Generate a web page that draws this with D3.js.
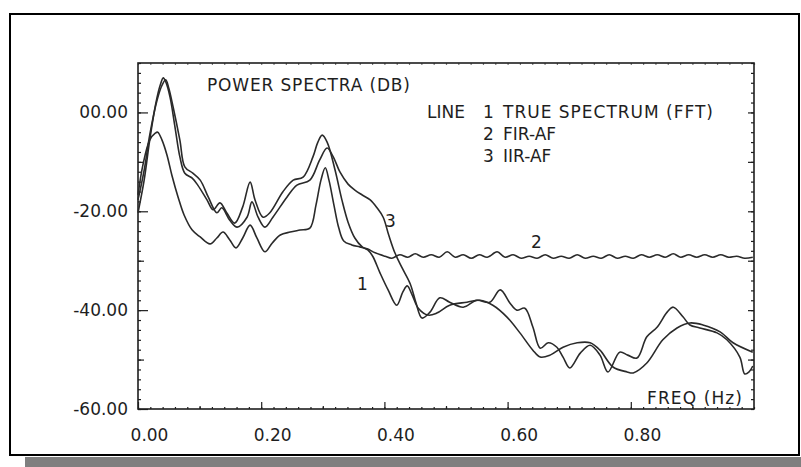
<!DOCTYPE html>
<html>
<head>
<meta charset="utf-8">
<script src="https://cdn.jsdelivr.net/npm/d3@7"></script>
<style>
  body { margin: 0; background: #fff; }
  svg text { font-family: "DejaVu Sans", Verdana, sans-serif; fill: #1e1e1e; }
</style>
</head>
<body>
<svg id="chart" width="801" height="467"></svg>
<script>
// Line 1: true spectrum (FFT)
const fftFreq = [0, .010, .019, .029, .036, .041, .045, .052, .060, .068, .076, .088, .097, .112, .122, .133, .144, .157, .170, .182,
  .190, .203, .214, .235, .252, .268, .284, .292, .299, .307, .320, .331, .341, .352, .364, .373, .381, .393, .406, .420,
  .430, .437, .445, .455, .471, .485, .506, .534, .555, .576, .599, .620, .641, .653, .669, .690, .713, .734, .750, .771,
  .794, .804, .826, .852, .875, .896, .917, .945, .966, .998];
const fftDb = [-20.3, -13.7, -5.6, 1.9, 5.5, 7.0, 6.2, 3.1, -2.9, -9.0, -12.3, -13.3, -14.7, -17.7, -19.7, -18.3, -20.3, -22.4, -19.1, -14.1,
  -17.7, -21.2, -20.3, -16.1, -13.7, -13.1, -9.0, -6.0, -4.6, -6.0, -11.7, -17.7, -22.2, -25.4, -27.2, -27.8, -29.1, -32.5, -35.9, -39.0,
  -36.3, -35.1, -36.9, -39.6, -41.0, -40.6, -39.0, -38.4, -38.0, -39.0, -41.4, -44.6, -48.1, -49.5, -49.1, -47.5, -46.6, -46.6, -48.1, -51.5,
  -52.5, -52.7, -50.7, -46.0, -43.6, -42.6, -43.0, -44.4, -46.6, -48.5];

// Line 2: FIR-AF
const firFreq = [0, .008, .019, .028, .032, .039, .047, .055, .065, .075, .088, .101, .117, .128, .138, .149, .159, .170, .182, .193,
  .206, .218, .231, .247, .263, .279, .289, .297, .304, .310, .318, .326, .334, .347, .360, .372, .385, .401, .412, .425,
  .438, .450, .463, .476, .489, .502, .515, .528, .541, .554, .567, .583, .596, .609, .622, .635, .648, .661, .674, .687,
  .700, .713, .726, .739, .752, .765, .778, .791, .804, .817, .830, .843, .856, .869, .881, .894, .907, .920, .933, .946,
  .959, .972, .985, .998];
const firDb = [-16.7, -10.6, -5.6, -4.2, -4.0, -5.6, -8.6, -12.7, -17.1, -20.8, -23.8, -25.2, -26.6, -25.4, -24.2, -25.8, -27.4, -25.4, -22.8, -25.4,
  -28.2, -26.4, -24.8, -24.2, -23.8, -23.4, -18.7, -13.7, -11.2, -13.7, -18.7, -23.4, -26.0, -26.8, -27.2, -27.6, -28.4, -29.1, -29.5, -28.8,
  -29.3, -28.6, -29.3, -28.8, -29.3, -28.2, -29.3, -28.8, -29.5, -28.8, -29.3, -28.2, -29.3, -28.8, -29.5, -29.1, -29.5, -28.8, -29.5, -29.1,
  -29.5, -28.8, -29.5, -29.1, -29.5, -28.8, -29.5, -29.1, -29.5, -28.8, -29.3, -28.8, -29.3, -28.6, -29.3, -28.8, -29.3, -28.8, -29.3, -28.8,
  -29.3, -29.1, -29.5, -29.3];

// Line 3: IIR-AF
const iirFreq = [0, .010, .019, .031, .039, .045, .050, .057, .068, .076, .089, .101, .114, .128, .136, .149, .161, .177, .185, .195,
  .206, .219, .242, .258, .279, .295, .307, .317, .328, .341, .352, .364, .377, .388, .398, .407, .417, .429, .442, .451,
  .461, .474, .490, .506, .528, .550, .571, .588, .604, .615, .628, .641, .653, .666, .680, .690, .701, .718, .734, .750,
  .763, .782, .795, .810, .826, .843, .859, .869, .885, .896, .912, .940, .956, .977, .985, .992, .998];
const iirDb = [-17.7, -11.7, -4.6, 2.5, 5.5, 6.6, 4.9, 1.1, -5.6, -11.0, -12.3, -13.7, -17.1, -20.3, -19.3, -21.8, -23.2, -21.2, -18.1, -21.2,
  -23.2, -21.2, -17.1, -14.7, -13.7, -9.6, -7.2, -9.0, -12.1, -14.5, -15.7, -16.7, -17.7, -19.3, -21.2, -24.8, -28.4, -31.5, -34.7, -38.4,
  -41.6, -40.4, -37.5, -38.4, -39.4, -38.0, -38.4, -35.9, -38.6, -40.0, -39.6, -43.4, -47.7, -46.6, -47.5, -49.5, -51.7, -48.7, -47.1, -49.1,
  -52.5, -48.5, -49.1, -49.7, -45.4, -43.4, -40.4, -39.4, -41.4, -43.0, -43.6, -44.6, -46.0, -49.5, -52.9, -52.5, -51.3];

const xTicks = [0, 0.2, 0.4, 0.6, 0.8];
const xTickLabels = ["0.00", "0.20", "0.40", "0.60", "0.80"];
const yTicks = [0, -20, -40, -60];
const yTickLabels = ["00.00", "-20.00", "-40.00", "-60.00"];

const legendNums = ["1", "2", "3"];
const legendNames = ["TRUE SPECTRUM (FFT)", "FIR-AF", "IIR-AF"];

const svg = d3.select("#chart");
const plotLeft = 138, plotRight = 754, plotTop = 63, plotBottom = 409;
const ink = "#1e1e1e";

// drop shadow and outer frame
svg.append("rect").attr("x", 25).attr("y", 457).attr("width", 776).attr("height", 10).attr("fill", "#7f7f7f");
svg.append("rect").attr("x", 10).attr("y", 14).attr("width", 789).attr("height", 441)
  .attr("fill", "#fff").attr("stroke", "#000").attr("stroke-width", 2);

const x = d3.scaleLinear().domain([0, 1]).range([plotLeft, plotRight]);
const y = d3.scaleLinear().domain([-60, 10]).range([plotBottom, plotTop]);

const minorY = d3.range(-60, 10.01, 2);
const midY = [-50, -30, -10];
const minorX = d3.range(0, 1.001, 0.02);
const midX = [0.1, 0.3, 0.5, 0.7, 0.9];

function styleAxis(g) {
  g.select(".domain").remove();
  g.selectAll("line").attr("stroke", ink).attr("stroke-width", 1.2);
  g.selectAll("text").style("font-size", "17px").attr("fill", ink);
}

// left axis: minor, mid, major (ticks point inward)
svg.append("g").attr("transform", `translate(${plotLeft},0)`)
  .call(d3.axisLeft(y).tickValues(minorY).tickSize(-3).tickFormat("")).call(styleAxis);
svg.append("g").attr("transform", `translate(${plotLeft},0)`)
  .call(d3.axisLeft(y).tickValues(midY).tickSize(-6).tickFormat("")).call(styleAxis);
svg.append("g").attr("transform", `translate(${plotLeft},0)`)
  .call(d3.axisLeft(y).tickValues(yTicks).tickSize(-10).tickPadding(10)
    .tickFormat((d, i) => yTickLabels[i])).call(styleAxis);

// right axis ticks
svg.append("g").attr("transform", `translate(${plotRight},0)`)
  .call(d3.axisRight(y).tickValues(minorY).tickSize(-3).tickFormat("")).call(styleAxis);
svg.append("g").attr("transform", `translate(${plotRight},0)`)
  .call(d3.axisRight(y).tickValues([0, -10, -20, -30, -40, -50]).tickSize(-6).tickFormat("")).call(styleAxis);

// bottom axis
svg.append("g").attr("transform", `translate(0,${plotBottom})`)
  .call(d3.axisBottom(x).tickValues(minorX).tickSize(-2).tickFormat("")).call(styleAxis);
svg.append("g").attr("transform", `translate(0,${plotBottom})`)
  .call(d3.axisBottom(x).tickValues(midX).tickSize(-3).tickFormat("")).call(styleAxis);
svg.append("g").attr("transform", `translate(0,${plotBottom})`)
  .call(d3.axisBottom(x).tickValues(xTicks).tickSize(-7).tickPadding(20)
    .tickFormat((d, i) => xTickLabels[i])).call(styleAxis)
  .selectAll("text").attr("dx", 11);

// top edge faint ticks
svg.append("g").attr("transform", `translate(0,${plotTop})`)
  .call(d3.axisTop(x).tickValues(minorX).tickSize(-2).tickFormat("")).call(styleAxis)
  .selectAll("line").attr("stroke", "#777");

// plot box
svg.append("rect").attr("x", plotLeft).attr("y", plotTop)
  .attr("width", plotRight - plotLeft).attr("height", plotBottom - plotTop)
  .attr("fill", "none").attr("stroke", ink).attr("stroke-width", 1.6);

// spectra
const line = d3.line()
  .x(d => x(d[0]))
  .y(d => y(d[1]))
  .curve(d3.curveCatmullRom.alpha(0.5));

const series = [
  d3.zip(fftFreq, fftDb),
  d3.zip(firFreq, firDb),
  d3.zip(iirFreq, iirDb)
];

svg.append("g").selectAll("path")
  .data(series)
  .join("path")
  .attr("d", line)
  .attr("fill", "none")
  .attr("stroke", "#2a2a2a")
  .attr("stroke-width", 1.6)
  .attr("stroke-linejoin", "round");

// texts
svg.append("text").attr("x", 207).attr("y", 91).attr("textLength", 203).attr("lengthAdjust", "spacing")
  .style("font-size", "17px").text("POWER SPECTRA (DB)");

svg.append("text").attr("x", 427).attr("y", 118).style("font-size", "17px").text("LINE");
legendNums.forEach((n, i) => {
  svg.append("text").attr("x", 483).attr("y", 118 + i * 22).style("font-size", "17px").text(n);
});
legendNames.forEach((name, i) => {
  const t = svg.append("text").attr("x", 503).attr("y", 118 + i * 22).style("font-size", "17px").text(name);
  if (i === 0) t.attr("textLength", 210).attr("lengthAdjust", "spacing");
});

// curve labels
svg.append("text").attr("x", 357).attr("y", 290).style("font-size", "17px").text("1");
svg.append("text").attr("x", 531).attr("y", 248).style("font-size", "17px").text("2");
svg.append("text").attr("x", 385).attr("y", 227).style("font-size", "17px").text("3");

svg.append("text").attr("x", 647).attr("y", 404).attr("textLength", 95).attr("lengthAdjust", "spacing")
  .style("font-size", "17px").text("FREQ (Hz)");
</script>
</body>
</html>
